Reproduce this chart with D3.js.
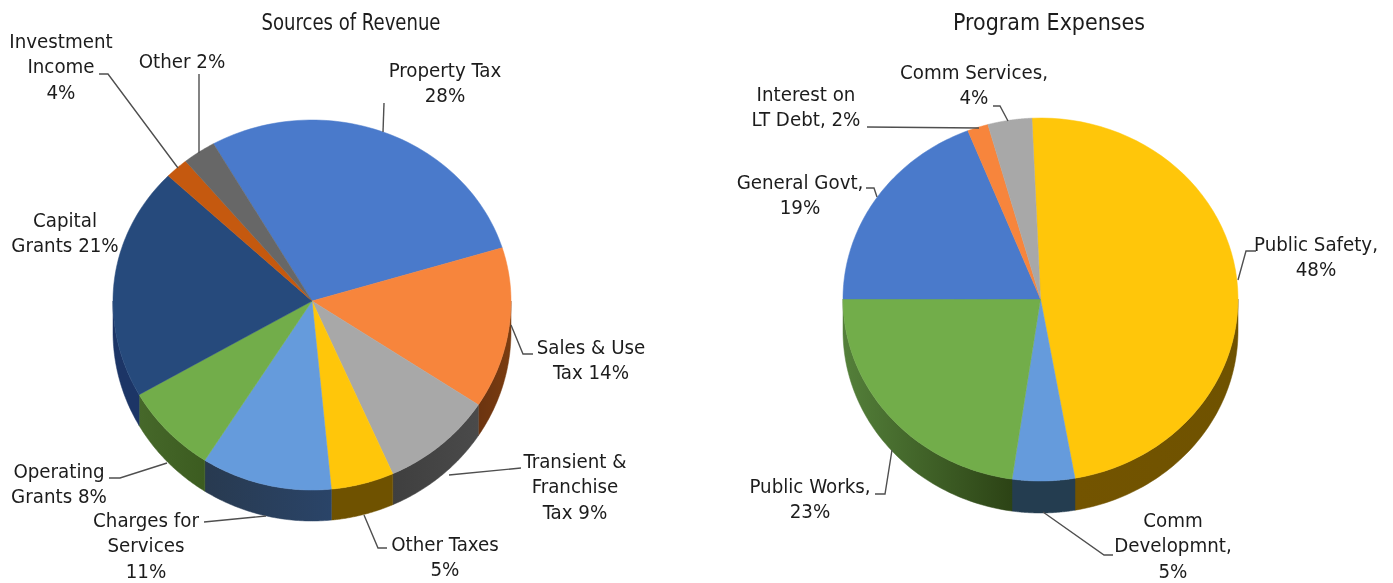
<html><head>
<meta charset="UTF-8">
<title>Sources of Revenue and Program Expenses</title>
<script src="https://cdn.jsdelivr.net/npm/d3@7"></script>
<style>
  body { margin: 0; background: #fff; }
  #chart { filter: blur(0.45px); }
  text { font-family: "DejaVu Sans Condensed", "DejaVu Sans", sans-serif; fill: #1c1c1c; text-anchor: middle; }
  .title { font-size: 23px; }
  .leader { fill: none; stroke: #4f4f4f; stroke-width: 1.4px; }
</style>
</head>
<body>
<svg id="chart" width="1393" height="583"></svg>
<script>
// slice shares (the printed labels are rounded / differ a bit)
const revenueNames = ['Property Tax', 'Sales & Use Tax', 'Transient & Franchise Tax', 'Other Taxes', 'Charges for Services', 'Operating Grants', 'Capital Grants', 'Investment Income', 'Other'];
const revenueShares = [28.5, 14, 9.1, 5.1, 10.6, 7.7, 20.4, 1.9, 2.7];
const revenueLabels = [
  ['Property Tax', '28%'], ['Sales & Use', 'Tax 14%'], ['Transient &', 'Franchise', 'Tax 9%'],
  ['Other Taxes', '5%'], ['Charges for', 'Services', '11%'], ['Operating', 'Grants 8%'],
  ['Capital', 'Grants 21%'], ['Investment', 'Income', '4%'], ['Other 2%']
];
const expenseNames = ['Public Safety', 'Comm Development', 'Public Works', 'General Govt', 'Interest on LT Debt', 'Comm Services'];
const expenseShares = [47.9, 5.1, 22.7, 19, 1.7, 3.6];
const expenseLabels = [
  ['Public Safety,', '48%'], ['Comm', 'Developmnt,', '5%'], ['Public Works,', '23%'],
  ['General Govt,', '19%'], ['Interest on', 'LT Debt, 2%'], ['Comm Services,', '4%']
];

// colours
const revenueFaces = ['#4a7acb', '#f7853c', '#a8a8a8', '#ffc60a', '#659bdc', '#72ad4a', '#264a7c', '#c5590f', '#676767'];
const revenueSides = [['#2b4a80', '#2b4a80'], ['#7a3c10', '#6b3410'], ['#4a4a4a', '#3f3f3f'], ['#6f5200', '#6f5200'], ['#2a4468', '#283a50'], ['#3c5c20', '#46682a'], ['#1c3566', '#1c3566'], ['#6b3410', '#6b3410'], ['#444', '#444']];
const expenseFaces = ['#ffc60a', '#659bdc', '#72ad4a', '#4a7acb', '#f7853c', '#a8a8a8'];
const expenseSides = [['#6f5200', '#735400'], ['#243d50', '#243d50'], ['#2c4315', '#54803a'], ['#2b4a80', '#2b4a80'], ['#6b3410', '#6b3410'], ['#444', '#444']];

// layout: [center x, y of first line]
const revenueLabelPos = [[445, 70], [591, 347], [575, 461], [445, 544], [146, 520], [59, 471], [65, 220], [61, 41], [182, 61]];
const expenseLabelPos = [[1316, 244], [1173, 520], [810, 486], [800, 182], [806, 94], [974, 72]];
const revenueLeaders = [
  [[384, 103], [383, 132]], [[533, 354], [523, 354], [511, 325]], [[521, 468], [449, 475]],
  [[387, 548], [378, 548], [364, 515]], [[204, 522], [266, 516]], [[109, 478], [120, 478], [167, 463]],
  null, [[99, 74], [108, 74], [178, 168]], [[199, 74], [199, 153]]
];
const expenseLeaders = [
  [[1256, 251], [1246, 251], [1238, 280]], [[1113, 555], [1104, 555], [1043, 512]], [[875, 494], [885, 494], [892, 450]],
  [[866, 188], [874, 188], [877, 197]], [[867, 127], [979, 128]], [[993, 106], [1000, 106], [1008, 121]]
];

const svg = d3.select('#chart');
const defs = svg.append('defs');
const deg = Math.PI / 180;
const lineHeight = 25.3;

function drawPie(cfg) {
  const g = svg.append('g');
  const arcs = d3.pie().sort(null).value(d => d)
    .startAngle(cfg.start * deg).endAngle((cfg.start + 360) * deg)(cfg.shares);

  // top half and bottom half of the face have slightly different radii (perspective)
  const px = a => cfg.cx + cfg.rx * Math.sin(a);
  const py = a => cfg.cy - Math.cos(a) * (Math.cos(a) > 0 ? cfg.ryTop : cfg.ryBot);
  const line = d3.line();
  const sample = (a0, a1) => d3.range(0, 61).map(i => a0 + (a1 - a0) * i / 60);

  // side wall, only the front half shows
  arcs.forEach((d, i) => {
    let a0 = d.startAngle, a1 = d.endAngle;
    [0, 2 * Math.PI].forEach(shift => {
      const s0 = Math.max(a0 + shift, Math.PI / 2), s1 = Math.min(a1 + shift, 3 * Math.PI / 2);
      if (s1 <= s0) return;
      const id = cfg.id + '-side-' + i;
      const grad = defs.append('linearGradient').attr('id', id).attr('gradientUnits', 'userSpaceOnUse')
        .attr('x1', px(s1)).attr('x2', px(s0)).attr('y1', 0).attr('y2', 0);
      grad.append('stop').attr('offset', 0).attr('stop-color', cfg.sides[i][1]);
      grad.append('stop').attr('offset', 1).attr('stop-color', cfg.sides[i][0]);
      const top = sample(s0, s1).map(a => [px(a), py(a)]);
      const bottom = sample(s1, s0).map(a => [px(a), py(a) + cfg.depth]);
      g.append('path').attr('d', line(top.concat(bottom)) + 'Z')
        .attr('fill', `url(#${id})`).attr('stroke', `url(#${id})`).attr('stroke-width', 0.5);
    });
  });

  // top face
  g.selectAll('path.face').data(arcs).enter().append('path')
    .attr('class', 'face')
    .attr('d', d => line([[cfg.cx, cfg.cy]].concat(sample(d.startAngle, d.endAngle).map(a => [px(a), py(a)]))) + 'Z')
    .attr('fill', (d, i) => cfg.faces[i])
    .attr('stroke', (d, i) => cfg.faces[i])
    .attr('stroke-width', 0.5);

  g.selectAll('path.leader').data(cfg.leaders.filter(d => d)).enter().append('path')
    .attr('class', 'leader')
    .attr('d', d => line(d));

  cfg.labels.forEach((lines, i) => {
    const t = g.append('text').style('font-size', cfg.labelSize + 'px');
    lines.forEach((s, j) => {
      t.append('tspan').attr('x', cfg.labelPos[i][0]).attr('y', cfg.labelPos[i][1] + j * lineHeight)
        .attr('dy', '0.35em').text(s);
    });
  });

  g.append('text').attr('class', 'title').attr('x', cfg.titleX).attr('y', 22).attr('dy', '0.35em')
    .attr('textLength', cfg.titleWidth).attr('lengthAdjust', 'spacingAndGlyphs').text(cfg.title);
}

drawPie({
  id: 'rev', title: 'Sources of Revenue', titleX: 351, titleWidth: 179, labelSize: 20.3,
  cx: 312, cy: 301, rx: 199, ryTop: 181, ryBot: 189, depth: 31, start: -29.7,
  shares: revenueShares, faces: revenueFaces, sides: revenueSides,
  labels: revenueLabels, labelPos: revenueLabelPos, leaders: revenueLeaders
});
drawPie({
  id: 'exp', title: 'Program Expenses', titleX: 1049, titleWidth: 192, labelSize: 20.3,
  cx: 1040.5, cy: 299, rx: 197.5, ryTop: 181, ryBot: 182, depth: 32, start: -2.5,
  shares: expenseShares, faces: expenseFaces, sides: expenseSides,
  labels: expenseLabels, labelPos: expenseLabelPos, leaders: expenseLeaders
});
</script>
</body></html>
